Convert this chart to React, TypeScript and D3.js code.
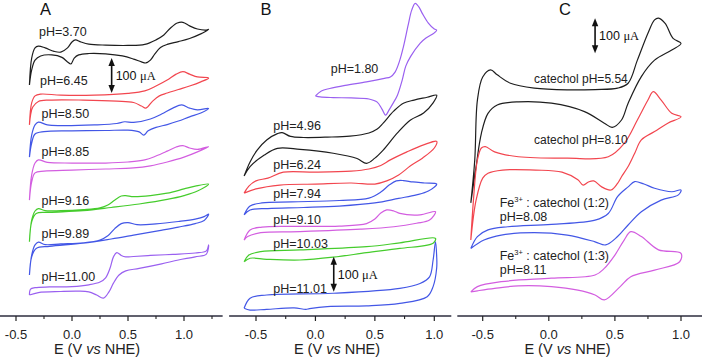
import React from 'react';
import * as d3 from 'd3';

type P = [number, number];

// ---------- shared axis data ----------
const majorTicks = [-0.5, 0, 0.5, 1.0];
const majorLabels = ['-0.5', '0.0', '0.5', '1.0'];
const minorTicks = [-0.75, -0.25, 0.25, 0.75, 1.25];

// ---------- colours ----------
const BLACK = '#1e1e1e';
const RED = '#f2464f';
const BLUE = '#4357e6';
const MAGENTA = '#d35ee0';
const GREEN = '#45cc2c';
const PURPLE = '#9a60f0';

// ---------- Panel A (E in V vs NHE, I in µA incl. stacking offset) ----------
const aNames = ['pH=3.70', 'pH=6.45', 'pH=8.50', 'pH=8.85', 'pH=9.16', 'pH=9.89', 'pH=11.00'];
const aColors = [BLACK, RED, BLUE, MAGENTA, GREEN, BLUE, PURPLE];
const aUpper: P[][] = [
  [[-0.38,660],[-0.36,737],[-0.33,766],[-0.30,771],[-0.24,766],[-0.16,756],[-0.10,754],[-0.04,766],[0.00,783],[0.03,789],[0.08,783],[0.15,777],[0.3,774],[0.5,773],[0.65,776],[0.75,789],[0.82,803],[0.88,823],[0.94,837],[0.99,839],[1.05,829],[1.12,820],[1.2,817],[1.22,819]],
  [[-0.38,546],[-0.36,609],[-0.33,629],[-0.28,634],[-0.1,631],[0.2,631],[0.5,636],[0.65,643],[0.75,657],[0.85,674],[0.93,691],[0.99,698],[1.05,691],[1.12,683],[1.22,680]],
  [[-0.38,454],[-0.36,517],[-0.33,546],[-0.30,554],[-0.22,546],[-0.1,544],[0.2,546],[0.4,550],[0.47,555],[0.55,553],[0.7,563],[0.8,577],[0.9,594],[0.98,603],[1.05,594],[1.12,589],[1.22,593]],
  [[-0.38,331],[-0.36,403],[-0.33,437],[-0.30,446],[-0.22,439],[0.0,437],[0.3,437],[0.5,440],[0.65,446],[0.75,457],[0.85,471],[0.93,483],[0.99,487],[1.05,480],[1.12,476],[1.22,484]],
  [[-0.38,212],[-0.36,274],[-0.33,300],[-0.30,307],[-0.24,301],[-0.1,301],[0.1,304],[0.25,309],[0.32,317],[0.38,331],[0.44,343],[0.48,344],[0.55,341],[0.7,344],[0.85,351],[1.0,363],[1.1,371],[1.22,377]],
  [[-0.38,117],[-0.36,174],[-0.33,203],[-0.30,211],[-0.24,204],[-0.1,206],[0.1,209],[0.25,217],[0.32,229],[0.38,249],[0.44,264],[0.5,267],[0.58,261],[0.75,263],[0.95,270],[1.1,277],[1.18,284],[1.22,291]],
  [[-0.38,60],[-0.37,77],[-0.33,81],[-0.2,83],[0.0,84],[0.15,89],[0.25,97],[0.3,109],[0.34,137],[0.37,169],[0.40,181],[0.44,173],[0.48,169],[0.55,170],[0.7,173],[0.9,176],[1.1,180],[1.2,186],[1.22,203]],
];
const aLower: P[][] = [
  [[1.15,806],[1.05,793],[0.95,784],[0.85,776],[0.79,767],[0.74,749],[0.70,731],[0.66,723],[0.62,726],[0.55,734],[0.45,743],[0.3,749],[0.15,750],[0.06,746],[0.02,737],[-0.01,720],[-0.04,726],[-0.09,739],[-0.18,746],[-0.28,743],[-0.33,731],[-0.36,703],[-0.38,660]],
  [[1.15,669],[1.05,657],[0.95,647],[0.85,637],[0.78,629],[0.72,614],[0.66,594],[0.62,600],[0.55,610],[0.4,614],[0.1,617],[-0.2,617],[-0.3,613],[-0.35,597],[-0.37,574],[-0.38,546]],
  [[1.15,580],[1.05,569],[0.95,557],[0.85,547],[0.75,539],[0.68,529],[0.64,517],[0.6,526],[0.5,531],[0.3,530],[0.0,529],[-0.25,527],[-0.33,520],[-0.36,494],[-0.38,454]],
  [[1.12,469],[1.0,454],[0.85,440],[0.7,429],[0.55,423],[0.3,420],[0.0,417],[-0.25,414],[-0.33,409],[-0.36,383],[-0.38,331]],
  [[1.12,357],[1.0,344],[0.85,333],[0.6,320],[0.35,310],[0.1,301],[-0.2,296],[-0.32,293],[-0.36,269],[-0.38,212]],
  [[1.18,273],[1.1,264],[0.95,254],[0.78,244],[0.55,231],[0.35,220],[0.1,208],[-0.2,199],[-0.32,193],[-0.36,169],[-0.38,117]],
  [[1.2,177],[1.1,169],[0.95,160],[0.8,149],[0.6,136],[0.48,129],[0.42,117],[0.37,94],[0.33,69],[0.28,51],[0.22,60],[0.15,69],[0.05,71],[-0.1,70],[-0.3,67],[-0.38,60]],
];

// ---------- Panel B ----------
const bNames = ['pH=1.80', 'pH=4.96', 'pH=6.24', 'pH=7.94', 'pH=9.10', 'pH=10.03', 'pH=11.01'];
const bColors = [PURPLE, BLACK, RED, BLUE, MAGENTA, GREEN, BLUE];
const bUpper: P[][] = [
  [[0.0,629],[0.05,643],[0.12,650],[0.25,659],[0.43,669],[0.58,679],[0.63,683],[0.67,697],[0.71,731],[0.74,769],[0.78,831],[0.81,874],[0.84,893],[0.87,883],[0.9,864],[0.95,837],[1.0,820],[1.02,817]],
  [[-0.60,400],[-0.55,440],[-0.49,474],[-0.41,503],[-0.32,521],[-0.28,524],[-0.21,513],[-0.1,510],[0.1,511],[0.29,514],[0.45,523],[0.52,534],[0.57,551],[0.62,571],[0.66,586],[0.74,608],[0.83,617],[0.94,625],[1.02,631]],
  [[-0.60,351],[-0.56,371],[-0.5,386],[-0.4,394],[-0.27,411],[0.0,411],[0.3,414],[0.45,420],[0.55,430],[0.63,446],[0.77,469],[0.91,489],[1.02,499]],
  [[-0.6,289],[-0.55,314],[-0.45,323],[-0.2,326],[0.2,330],[0.45,337],[0.55,354],[0.62,374],[0.68,386],[0.74,387],[0.82,383],[0.92,380],[1.02,377]],
  [[-0.6,217],[-0.55,246],[-0.45,254],[-0.2,256],[0.2,257],[0.43,264],[0.5,277],[0.55,294],[0.6,303],[0.66,300],[0.71,293],[0.88,289],[1.01,298]],
  [[-0.6,155],[-0.56,174],[-0.46,184],[-0.13,189],[0.43,198],[0.71,209],[1.01,222]],
  [[-0.6,22],[-0.55,51],[-0.41,60],[0.15,65],[0.71,79],[0.88,93],[0.96,112],[0.99,160],[1.01,212]],
];
const bLower: P[][] = [
  [[1.0,809],[0.93,794],[0.88,779],[0.8,741],[0.76,714],[0.73,674],[0.69,631],[0.65,606],[0.62,589],[0.59,574],[0.56,591],[0.52,611],[0.45,620],[0.3,623],[0.15,624],[0.04,626],[0.0,629]],
  [[0.99,609],[0.91,580],[0.80,560],[0.69,523],[0.57,474],[0.5,451],[0.43,436],[0.35,450],[0.15,465],[-0.13,476],[-0.32,479],[-0.43,460],[-0.55,427],[-0.60,400]],
  [[1.0,480],[0.9,451],[0.8,429],[0.7,403],[0.6,386],[0.5,377],[0.3,380],[0.0,377],[-0.3,374],[-0.5,363],[-0.60,351]],
  [[0.95,357],[0.85,346],[0.7,336],[0.5,323],[0.2,314],[-0.1,310],[-0.4,307],[-0.55,303],[-0.6,289]],
  [[0.96,274],[0.85,265],[0.66,255],[0.38,248],[-0.13,241],[-0.46,238],[-0.57,227],[-0.6,217]],
  [[0.99,208],[0.71,193],[0.43,181],[0.15,168],[-0.13,160],[-0.41,162],[-0.55,165],[-0.6,155]],
  [[1.02,171],[1.02,137],[0.99,84],[0.94,55],[0.71,36],[0.43,29],[0.1,27],[-0.05,21],[-0.08,19],[-0.18,23],[-0.41,19],[-0.55,17],[-0.6,22]],
];

// ---------- Panel C ----------
const cColors = [BLACK, RED, BLUE, MAGENTA];
const cUpper: P[][] = [
  [[-0.59,323],[-0.56,446],[-0.54,617],[-0.5,683],[-0.44,703],[-0.39,689],[-0.29,665],[-0.11,651],[0.14,646],[0.35,647],[0.52,651],[0.6,665],[0.67,731],[0.75,808],[0.80,846],[0.83,851],[0.88,836],[0.94,793],[1.0,779]],
  [[-0.59,217],[-0.57,331],[-0.54,446],[-0.51,480],[-0.48,484],[-0.41,469],[-0.23,455],[0.14,451],[0.45,455],[0.57,493],[0.67,560],[0.75,617],[0.79,641],[0.85,617],[0.93,579],[1.0,569]],
  [[-0.59,193],[-0.54,227],[-0.46,246],[-0.31,255],[0.02,262],[0.35,274],[0.45,293],[0.52,341],[0.6,369],[0.65,384],[0.72,377],[0.8,365],[0.93,355],[1.0,360]],
  [[-0.59,69],[-0.54,84],[-0.36,98],[0.02,108],[0.35,117],[0.42,136],[0.5,174],[0.57,217],[0.62,241],[0.7,227],[0.83,189],[1.0,179]],
];
const cLower: P[][] = [
  [[0.93,760],[0.8,731],[0.70,684],[0.6,608],[0.55,560],[0.48,539],[0.42,551],[0.27,584],[0.02,608],[-0.23,612],[-0.39,603],[-0.46,579],[-0.51,522],[-0.55,427],[-0.59,323]],
  [[0.9,551],[0.8,527],[0.7,503],[0.65,465],[0.6,427],[0.55,398],[0.52,379],[0.47,360],[0.4,369],[0.34,386],[0.3,383],[0.26,374],[0.22,389],[0.1,411],[-0.1,417],[-0.35,417],[-0.46,408],[-0.5,394],[-0.55,331],[-0.59,217]],
  [[0.98,346],[0.85,331],[0.7,298],[0.6,260],[0.52,227],[0.43,203],[0.35,212],[0.14,231],[-0.11,238],[-0.36,231],[-0.49,217],[-0.59,193]],
  [[0.99,155],[0.8,131],[0.62,112],[0.54,84],[0.42,46],[0.35,60],[0.22,74],[0.02,84],[-0.23,86],[-0.41,79],[-0.54,72],[-0.59,69]],
];

// ---------- layout ----------
const W = 702;
const H = 361;
const AXIS_Y = 316;
const FONT = "'Liberation Sans', Arial, Helvetica, sans-serif";

const yScale = d3.scaleLinear().domain([0, 900]).range([AXIS_Y, 1]);

interface PanelCfg {
  letter: string;
  letterX: number;
  range: [number, number]; // pixel positions of E=-0.5 and E=1.0
  axisExt: [number, number]; // E extent of axis line
  titleX: number;
  upper: P[][];
  lower: P[][];
  colors: string[];
  arrow: { e: number; i0: number; labelDx: number };
}

const panels: PanelCfg[] = [
  { letter: 'A', letterX: 45.5, range: [16, 184], axisExt: [-0.643, 1.345], titleX: 97,
    upper: aUpper, lower: aLower, colors: aColors, arrow: { e: 0.354, i0: 637, labelDx: 4 } },
  { letter: 'B', letterX: 266, range: [256, 434.3], axisExt: [-0.726, 1.143], titleX: 337,
    upper: bUpper, lower: bLower, colors: bColors, arrow: { e: 0.154, i0: 69, labelDx: 4 } },
  { letter: 'C', letterX: 565, range: [482.7, 681], axisExt: [-0.692, 1.2], titleX: 567.5,
    upper: cUpper, lower: cLower, colors: cColors, arrow: { e: 0.35, i0: 751, labelDx: 4 } },
];

const aLabelPos: [number, number][] = [[39, 36], [40, 85], [41.5, 117.5], [41.5, 156], [41.5, 205], [41.5, 237.5], [41.5, 281]];
const bLabelPos: [number, number][] = [[330.7, 72.5], [273.3, 130], [273.3, 169], [273.3, 198], [273.3, 224], [273.3, 247.5], [273.3, 292.5]];

const line = (x: d3.ScaleLinear<number, number>) =>
  d3.line<P>()
    .x((d) => x(d[0]))
    .y((d) => yScale(d[1]))
    .curve(d3.curveCatmullRom.alpha(0.5));

function Arrow({ x, y1, y2 }: { x: number; y1: number; y2: number }) {
  const hw = 3.2;
  const hl = 8;
  return (
    <g fill="#111" stroke="none">
      <line x1={x} x2={x} y1={y1 + hl - 1} y2={y2 - hl + 1} stroke="#111" strokeWidth={1.6} />
      <path d={`M${x},${y1} L${x - hw},${y1 + hl} L${x + hw},${y1 + hl} Z`} />
      <path d={`M${x},${y2} L${x - hw},${y2 - hl} L${x + hw},${y2 - hl} Z`} />
    </g>
  );
}

function Panel({ cfg }: { cfg: PanelCfg }) {
  const x = d3.scaleLinear().domain([-0.5, 1.0]).range(cfg.range);
  const gen = line(x);
  const ax0 = x(cfg.axisExt[0]);
  const ax1 = Math.min(W, x(cfg.axisExt[1]));
  const ay = yScale(cfg.arrow.i0 + 100);
  const ay2 = yScale(cfg.arrow.i0);
  const axx = x(cfg.arrow.e);
  return (
    <g>
      {cfg.upper.map((u, i) => (
        <path key={i} d={gen([...u, ...cfg.lower[i]]) || ''} fill="none" stroke={cfg.colors[i]} strokeWidth={1.2} strokeLinejoin="round" />
      ))}
      <line x1={ax0} x2={ax1} y1={AXIS_Y} y2={AXIS_Y} stroke="#2c2c3e" strokeWidth={1.6} />
      {majorTicks.map((t, i) => (
        <g key={'M' + i}>
          <line x1={x(t)} x2={x(t)} y1={AXIS_Y} y2={AXIS_Y + 5} stroke="#222" strokeWidth={1.2} />
          <text x={x(t)} y={338.5} textAnchor="middle" fontSize={13} fill="#222">{majorLabels[i]}</text>
        </g>
      ))}
      {minorTicks.filter((t) => x(t) > ax0 + 1 && x(t) < ax1 - 1).map((t, i) => (
        <line key={'m' + i} x1={x(t)} x2={x(t)} y1={AXIS_Y} y2={AXIS_Y + 3} stroke="#222" strokeWidth={1.1} />
      ))}
      <text x={cfg.titleX} y={354} textAnchor="middle" fontSize={14.5} fill="#222">
        E (V <tspan fontStyle="italic">vs</tspan> NHE)
      </text>
      <text x={cfg.letterX} y={15} textAnchor="middle" fontSize={16.5} fill="#111">{cfg.letter}</text>
      <Arrow x={axx} y1={ay} y2={ay2} />
      <text x={axx + cfg.arrow.labelDx} y={(ay + ay2) / 2 + 4.5} fontSize={12.5} fill="#111">
        100 <tspan fontFamily="'Liberation Serif', 'Times New Roman', serif">μA</tspan>
      </text>
    </g>
  );
}

export default function App() {
  return (
    <svg width={W} height={H} style={{ position: 'absolute', left: 0, top: 0, background: '#fff' }} fontFamily={FONT}>
      <rect x={0} y={0} width={W} height={H} fill="#fff" />
      {panels.map((p) => <Panel key={p.letter} cfg={p} />)}
      {aNames.map((n, i) => (
        <text key={n} x={aLabelPos[i][0]} y={aLabelPos[i][1]} fontSize={12.5} fill="#222">{n}</text>
      ))}
      {bNames.map((n, i) => (
        <text key={n} x={bLabelPos[i][0]} y={bLabelPos[i][1]} fontSize={12.5} fill="#222">{n}</text>
      ))}
      <text x={534} y={82.5} fontSize={12} fill="#222">catechol pH=5.54</text>
      <text x={534} y={143.5} fontSize={12} fill="#222">catechol pH=8.10</text>
      <text x={499.7} y={207} fontSize={12.5} fill="#222">
        Fe<tspan fontSize={7.5} dy={-5}>3+</tspan><tspan dy={5}> : catechol (1:2)</tspan>
      </text>
      <text x={499.7} y={220.5} fontSize={12.5} fill="#222">pH=8.08</text>
      <text x={499.7} y={260} fontSize={12.5} fill="#222">
        Fe<tspan fontSize={7.5} dy={-5}>3+</tspan><tspan dy={5}> : catechol (1:3)</tspan>
      </text>
      <text x={499.7} y={273.5} fontSize={12.5} fill="#222">pH=8.11</text>
    </svg>
  );
}
